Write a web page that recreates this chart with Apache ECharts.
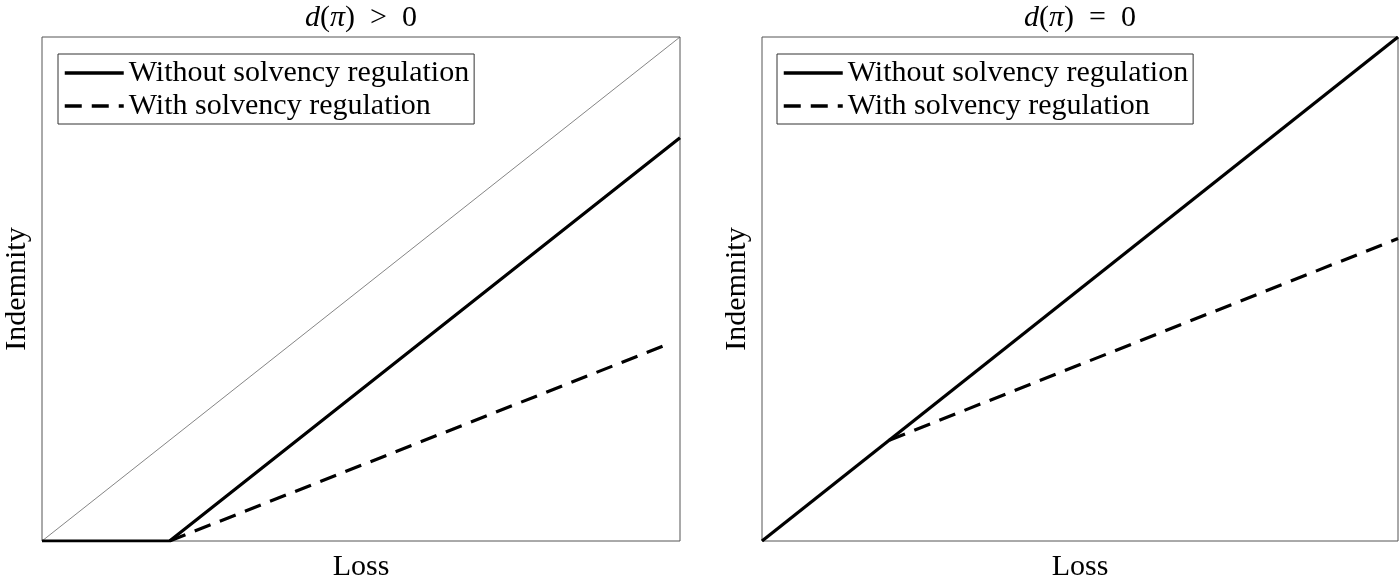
<!DOCTYPE html>
<html>
<head>
<meta charset="utf-8">
<script src="https://cdn.jsdelivr.net/npm/echarts@6/dist/echarts.min.js"></script>
<style>
    html, body { margin: 0; padding: 0; background: #fff; }
    #chart { width: 1400px; height: 576px; }
</style>
</head>
<body>
<div id="chart"></div>
<script>
    // left panel: d(pi) > 0
    var diagX = [0, 1];
    var diagY = [0, 1];
    var noRegLeftX = [0, 0.2, 1];
    var noRegLeftY = [0, 0, 0.8];
    var regLeftX = [0.2, 0.98];
    var regLeftY = [0, 0.39];
    // right panel: d(pi) = 0
    var noRegRightX = [0, 1];
    var noRegRightY = [0, 1];
    var regRightX = [0.2, 1];
    var regRightY = [0.2, 0.6];

    var titles = ['{i|d}({i|π})  >  0', '{i|d}({i|π})  =  0'];
    var legendNames = ['Without solvency regulation', 'With solvency regulation'];

    function pairs(xs, ys) {
        return xs.map(function (x, i) { return [x, ys[i]]; });
    }

    var font = 'Liberation Serif';
    var myChart = echarts.init(document.getElementById('chart'));

    function axisPair(idx) {
        return {
            x: {
                type: 'value', gridIndex: idx, min: 0, max: 1,
                name: 'Loss', nameLocation: 'middle', nameGap: 11,
                nameTextStyle: {fontFamily: font, fontSize: 30, color: '#000'},
                axisLine: {show: false}, axisTick: {show: false},
                axisLabel: {show: false}, splitLine: {show: false}
            },
            y: {
                type: 'value', gridIndex: idx, min: 0, max: 1,
                name: 'Indemnity', nameLocation: 'middle', nameGap: 10,
                nameTextStyle: {fontFamily: font, fontSize: 30, color: '#000'},
                axisLine: {show: false}, axisTick: {show: false},
                axisLabel: {show: false}, splitLine: {show: false}
            }
        };
    }
    var a0 = axisPair(0), a1 = axisPair(1);

    var solid = {color: '#000', width: 3.2, type: 'solid'};
    var dashed = {color: '#000', width: 3.2, type: [17, 10]};

    function legendAt(left) {
        return {
            left: left, top: 54, orient: 'vertical',
            data: legendNames,
            itemWidth: 59, itemHeight: 20, itemGap: 1,
            padding: [3, 5, 2, 5],
            borderColor: '#333', borderWidth: 1,
            selectedMode: false,
            itemStyle: {opacity: 0},
            lineStyle: {width: 3.5, color: '#000'},
            textStyle: {fontFamily: font, fontSize: 30, lineHeight: 32, color: '#000'}
        };
    }

    var option = {
        animation: false,
        backgroundColor: '#fff',
        title: [0, 1].map(function (i) {
            return {
                text: titles[i],
                left: i === 0 ? 361 : 1080,
                textAlign: 'center',
                top: 3,
                padding: 0,
                textStyle: {
                    fontFamily: font, fontSize: 30, fontWeight: 'normal', color: '#000',
                    rich: {i: {fontFamily: font, fontSize: 30, fontStyle: 'italic', color: '#000'}}
                }
            };
        }),
        legend: [legendAt(58), legendAt(777)],
        grid: [
            {left: 42, top: 37, width: 638, height: 504, show: true, borderColor: '#555', borderWidth: 1, outerBoundsMode: 'none'},
            {left: 762, top: 37, width: 636, height: 504, show: true, borderColor: '#555', borderWidth: 1, outerBoundsMode: 'none'}
        ],
        xAxis: [a0.x, a1.x],
        yAxis: [a0.y, a1.y],
        series: [
            {
                name: legendNames[0], type: 'line', xAxisIndex: 0, yAxisIndex: 0,
                symbol: 'none', lineStyle: solid, data: pairs(noRegLeftX, noRegLeftY)
            },
            {
                name: legendNames[1], type: 'line', xAxisIndex: 0, yAxisIndex: 0,
                symbol: 'none', lineStyle: dashed, data: pairs(regLeftX, regLeftY)
            },
            {
                name: 'diag', type: 'line', xAxisIndex: 0, yAxisIndex: 0, silent: true,
                symbol: 'none', lineStyle: {color: '#666', width: 0.8, type: 'solid'},
                data: pairs(diagX, diagY), z: 1
            },
            {
                name: legendNames[0], type: 'line', xAxisIndex: 1, yAxisIndex: 1,
                symbol: 'none', lineStyle: solid, data: pairs(noRegRightX, noRegRightY)
            },
            {
                name: legendNames[1], type: 'line', xAxisIndex: 1, yAxisIndex: 1,
                symbol: 'none', lineStyle: dashed, data: pairs(regRightX, regRightY)
            }
        ]
    };
    myChart.setOption(option);
</script>
</body>
</html>
